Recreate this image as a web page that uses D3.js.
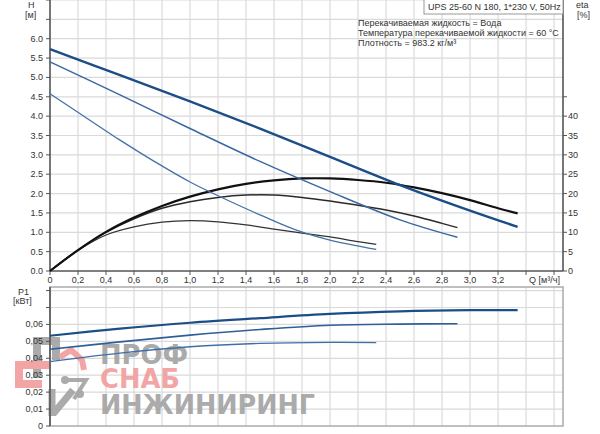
<!DOCTYPE html>
<html>
<head>
<meta charset="utf-8">
<script src="https://cdn.jsdelivr.net/npm/d3@7"></script>
<style>
  body { margin: 0; background: #fff; }
  svg text { font-family: "Liberation Sans", Arial, sans-serif; fill: #333; }
</style>
</head>
<body>
<div id="chart"></div>
<script>
// Q-H curves (three speeds)
var qH3 = [0, 0.5, 1.0, 1.5, 2.0, 2.5, 3.0, 3.34];
var hH3 = [5.73, 5.06, 4.38, 3.68, 2.95, 2.22, 1.56, 1.14];
var qH2 = [0, 0.5, 1.0, 1.5, 2.0, 2.5, 2.91];
var hH2 = [5.40, 4.55, 3.68, 2.83, 2.05, 1.32, 0.87];
var qH1 = [0, 0.25, 0.5, 0.75, 1.0, 1.25, 1.5, 1.75, 2.0, 2.33];
var hH1 = [4.58, 3.98, 3.38, 2.82, 2.30, 1.86, 1.45, 1.07, 0.80, 0.56];

// efficiency curves, %
var qEta3 = [0, 0.2, 0.4, 0.6, 0.8, 1.0, 1.2, 1.4, 1.6, 1.8, 2.0, 2.2, 2.4, 2.6, 2.8, 3.0, 3.2, 3.34];
var eta3 = [0, 5.4, 10.1, 13.8, 16.8, 19.2, 21.1, 22.5, 23.4, 23.9, 23.9, 23.5, 22.8, 21.6, 20.1, 18.3, 16.2, 14.9];
var qEta2 = [0, 0.2, 0.4, 0.6, 0.8, 1.0, 1.2, 1.4, 1.6, 1.8, 2.0, 2.2, 2.4, 2.6, 2.8, 2.91];
var eta2 = [0, 5.4, 10.0, 13.5, 16.2, 17.9, 19.0, 19.6, 19.6, 19.0, 18.1, 17.0, 15.75, 14.2, 12.3, 11.2];
var qEta1 = [0, 0.2, 0.4, 0.6, 0.8, 1.0, 1.2, 1.4, 1.6, 1.8, 2.0, 2.2, 2.33];
var eta1 = [0, 5.3, 9.3, 11.4, 12.6, 13.0, 12.7, 11.9, 10.8, 9.8, 8.8, 7.6, 6.9];

// power P1, kW
var qP3 = [0, 0.5, 1.0, 1.5, 2.0, 2.5, 3.0, 3.34];
var p3 = [0.0533, 0.0575, 0.0610, 0.0637, 0.0662, 0.0677, 0.0684, 0.0685];
var qP2 = [0, 0.5, 1.0, 1.5, 2.0, 2.5, 2.91];
var p2 = [0.0453, 0.0497, 0.0537, 0.0570, 0.0595, 0.0602, 0.0604];
var qP1 = [0, 0.5, 1.0, 1.5, 2.0, 2.33];
var p1 = [0.0380, 0.0430, 0.0468, 0.0488, 0.0494, 0.0493];

// ticks
var qTicks = [0, 0.2, 0.4, 0.6, 0.8, 1.0, 1.2, 1.4, 1.6, 1.8, 2.0, 2.2, 2.4, 2.6, 2.8, 3.0, 3.2];
var qGrid = [0, 0.2, 0.4, 0.6, 0.8, 1.0, 1.2, 1.4, 1.6, 1.8, 2.0, 2.2, 2.4, 2.6, 2.8, 3.0, 3.2, 3.4, 3.6];
var hTicks = [0, 0.5, 1.0, 1.5, 2.0, 2.5, 3.0, 3.5, 4.0, 4.5, 5.0, 5.5, 6.0];
var hGrid = [0.5, 1.0, 1.5, 2.0, 2.5, 3.0, 3.5, 4.0, 4.5, 5.0, 5.5, 6.0, 6.5, 7.0];
var etaTicks = [0, 5, 10, 15, 20, 25, 30, 35, 40];
var pTicks = [0, 0.01, 0.02, 0.03, 0.04, 0.05, 0.06];
var pGrid = [0.01, 0.02, 0.03, 0.04, 0.05, 0.06, 0.07, 0.08];

var title = "UPS 25-60 N 180, 1*230 V, 50Hz";
var notes = ["Перекачиваемая жидкость = Вода",
             "Температура перекачиваемой жидкости = 60 °C",
             "Плотность = 983.2 кг/м³"];

var W = 600, H = 434;
var svg = d3.select("#chart").append("svg").attr("width", W).attr("height", H);

var x = d3.scaleLinear().domain([0, 3.664]).range([50, 563]);
var yH = d3.scaleLinear().domain([0, 7]).range([271, 0]);
var yEta = d3.scaleLinear().domain([0, 70]).range([271, 0]);
var yP = d3.scaleLinear().domain([0, 0.0821]).range([426, 287]);

var gridColor = "#dadada";
var axisColor = "#555";

// ---- grids
var g = svg.append("g");
g.selectAll(".vgt").data(qGrid.slice(1)).enter().append("line")
  .attr("x1", d => x(d)).attr("x2", d => x(d)).attr("y1", 0).attr("y2", 271)
  .attr("stroke", gridColor).attr("stroke-width", 1.2);
g.selectAll(".hgt").data(hGrid).enter().append("line")
  .attr("x1", 50).attr("x2", 563).attr("y1", d => yH(d)).attr("y2", d => yH(d))
  .attr("stroke", gridColor).attr("stroke-width", 1.2);
g.selectAll(".vgb").data(qGrid.slice(1)).enter().append("line")
  .attr("x1", d => x(d)).attr("x2", d => x(d)).attr("y1", 287).attr("y2", 426)
  .attr("stroke", gridColor).attr("stroke-width", 1.2);
g.selectAll(".hgb").data(pGrid).enter().append("line")
  .attr("x1", 50).attr("x2", 563).attr("y1", d => yP(d)).attr("y2", d => yP(d))
  .attr("stroke", gridColor).attr("stroke-width", 1.2);

// bottom frame
svg.append("rect").attr("x", 50).attr("y", 287).attr("width", 513).attr("height", 139)
  .attr("fill", "none").attr("stroke", "#aaa").attr("stroke-width", 1.5);

// ---- watermark (logo + name)
var grayW = "#a2a2a2", redW = "#f29c9c";
var wm = svg.append("g").attr("opacity", 0.9);
wm.append("path").attr("d", "M37,378 L37,341 L56,341 L56,360")
  .attr("fill", "none").attr("stroke", grayW).attr("stroke-width", 8);
wm.append("path").attr("d", "M60,357 L71,350 L82,360 L84,370")
  .attr("fill", "none").attr("stroke", redW).attr("stroke-width", 6);
wm.append("path").attr("d", "M50,365 L19,365 L19,384 L42,384")
  .attr("fill", "none").attr("stroke", redW).attr("stroke-width", 8);
wm.append("path").attr("d", "M52,389 L52,416 M53,414 L73,390")
  .attr("fill", "none").attr("stroke", grayW).attr("stroke-width", 7);
wm.append("path").attr("d", "M65,380 L86,380 L74,399")
  .attr("fill", "none").attr("stroke", grayW).attr("stroke-width", 4);
wm.append("circle").attr("cx", 65).attr("cy", 380).attr("r", 4).attr("fill", grayW);
wm.append("circle").attr("cx", 80).attr("cy", 394).attr("r", 4).attr("fill", grayW);
[["ПРОФ", 364, 88, grayW], ["СНАБ", 388, 80, redW], ["ИНЖИНИРИНГ", 414, 215, grayW]]
  .forEach(function (t) {
    wm.append("text").attr("x", 100).attr("y", t[1]).text(t[0])
      .attr("textLength", t[2]).attr("lengthAdjust", "spacingAndGlyphs")
      .style("font-family", "DejaVu Sans").style("font-size", "27px").style("font-weight", "bold")
      .style("fill", t[3]);
  });

// ---- axis lines
svg.append("line").attr("x1", 50).attr("x2", 50).attr("y1", 0).attr("y2", 271).attr("stroke", axisColor).attr("stroke-width", 1.6);
svg.append("line").attr("x1", 563).attr("x2", 563).attr("y1", 0).attr("y2", 271).attr("stroke", axisColor).attr("stroke-width", 1.6);
svg.append("line").attr("x1", 50).attr("x2", 563).attr("y1", 271).attr("y2", 271).attr("stroke", axisColor).attr("stroke-width", 1.6);
svg.append("line").attr("x1", 50).attr("x2", 50).attr("y1", 287).attr("y2", 426).attr("stroke", axisColor).attr("stroke-width", 1.6);

var ax = svg.append("g");
ax.selectAll(null).data(hTicks.concat([6.5, 7])).enter().append("line")
  .attr("x1", 46).attr("x2", 50).attr("y1", d => yH(d)).attr("y2", d => yH(d)).attr("stroke", axisColor);
ax.selectAll(null).data(hTicks).enter().append("text")
  .attr("x", 43).attr("y", d => yH(d) + 3).attr("text-anchor", "end").style("font-size", "9px")
  .text(d => d.toFixed(1));
ax.selectAll(null).data(etaTicks.concat([45])).enter().append("line")
  .attr("x1", 563).attr("x2", 567).attr("y1", d => yEta(d)).attr("y2", d => yEta(d)).attr("stroke", axisColor);
ax.selectAll(null).data(etaTicks).enter().append("text")
  .attr("x", 568).attr("y", d => yEta(d) + 3).style("font-size", "9px").text(d => d);
ax.selectAll(null).data(qGrid).enter().append("line")
  .attr("x1", d => x(d)).attr("x2", d => x(d)).attr("y1", 271).attr("y2", 275).attr("stroke", axisColor);
ax.selectAll(null).data(qTicks).enter().append("text")
  .attr("x", d => x(d)).attr("y", 283).attr("text-anchor", "middle").style("font-size", "9px")
  .text(d => d === 0 ? "0" : d.toFixed(1).replace(".", ","));
ax.append("text").attr("x", 529).attr("y", 283).style("font-size", "9px").text("Q [м³/ч]");
ax.append("text").attr("x", 28).attr("y", 8).style("font-size", "9px").text("H");
ax.append("text").attr("x", 25).attr("y", 18).style("font-size", "9px").text("[м]");
ax.append("text").attr("x", 576).attr("y", 8).style("font-size", "9px").text("eta");
ax.append("text").attr("x", 577).attr("y", 18).style("font-size", "9px").text("[%]");

// bottom axis ticks
ax.selectAll(null).data(pTicks.concat([0.07, 0.08])).enter().append("line")
  .attr("x1", 46).attr("x2", 50).attr("y1", d => yP(d)).attr("y2", d => yP(d)).attr("stroke", axisColor);
ax.selectAll(null).data(pTicks).enter().append("text")
  .attr("x", 43).attr("y", d => yP(d) + 3).attr("text-anchor", "end").style("font-size", "9px")
  .text(d => d === 0 ? "0" : d.toFixed(2).replace(".", ","));
ax.append("text").attr("x", 18).attr("y", 295).style("font-size", "9px").text("P1");
ax.append("text").attr("x", 13).attr("y", 304).style("font-size", "9px").text("[кВт]");

// ---- legend box
svg.append("rect").attr("x", 424).attr("y", -1).attr("width", 139).attr("height", 15)
  .attr("fill", "#fff").attr("stroke", "#999").attr("stroke-width", 1);
svg.append("text").attr("x", 428).attr("y", 10).style("font-size", "9px").text(title);
svg.selectAll(null).data(notes).enter().append("text")
  .attr("x", 358).attr("y", (d, i) => 26 + i * 10).style("font-size", "9px").text(d => d);

// ---- curves
function draw(qs, vs, ys, color, w) {
  var line = d3.line().x(d => x(d[0])).y(d => ys(d[1])).curve(d3.curveCatmullRom.alpha(0.5));
  svg.append("path").datum(d3.zip(qs, vs)).attr("d", line)
    .attr("fill", "none").attr("stroke", color).attr("stroke-width", w);
}
draw(qEta1, eta1, yEta, "#333", 1.2);
draw(qEta2, eta2, yEta, "#2a2a2a", 1.5);
draw(qEta3, eta3, yEta, "#111", 2.2);
draw(qH1, hH1, yH, "#4472a8", 1.3);
draw(qH2, hH2, yH, "#3a68a0", 1.5);
draw(qH3, hH3, yH, "#1b4d87", 2.4);
draw(qP1, p1, yP, "#3f6fa6", 1.3);
draw(qP2, p2, yP, "#2f5f98", 1.6);
draw(qP3, p3, yP, "#1b4d87", 2.2);
</script>
</body>
</html>
